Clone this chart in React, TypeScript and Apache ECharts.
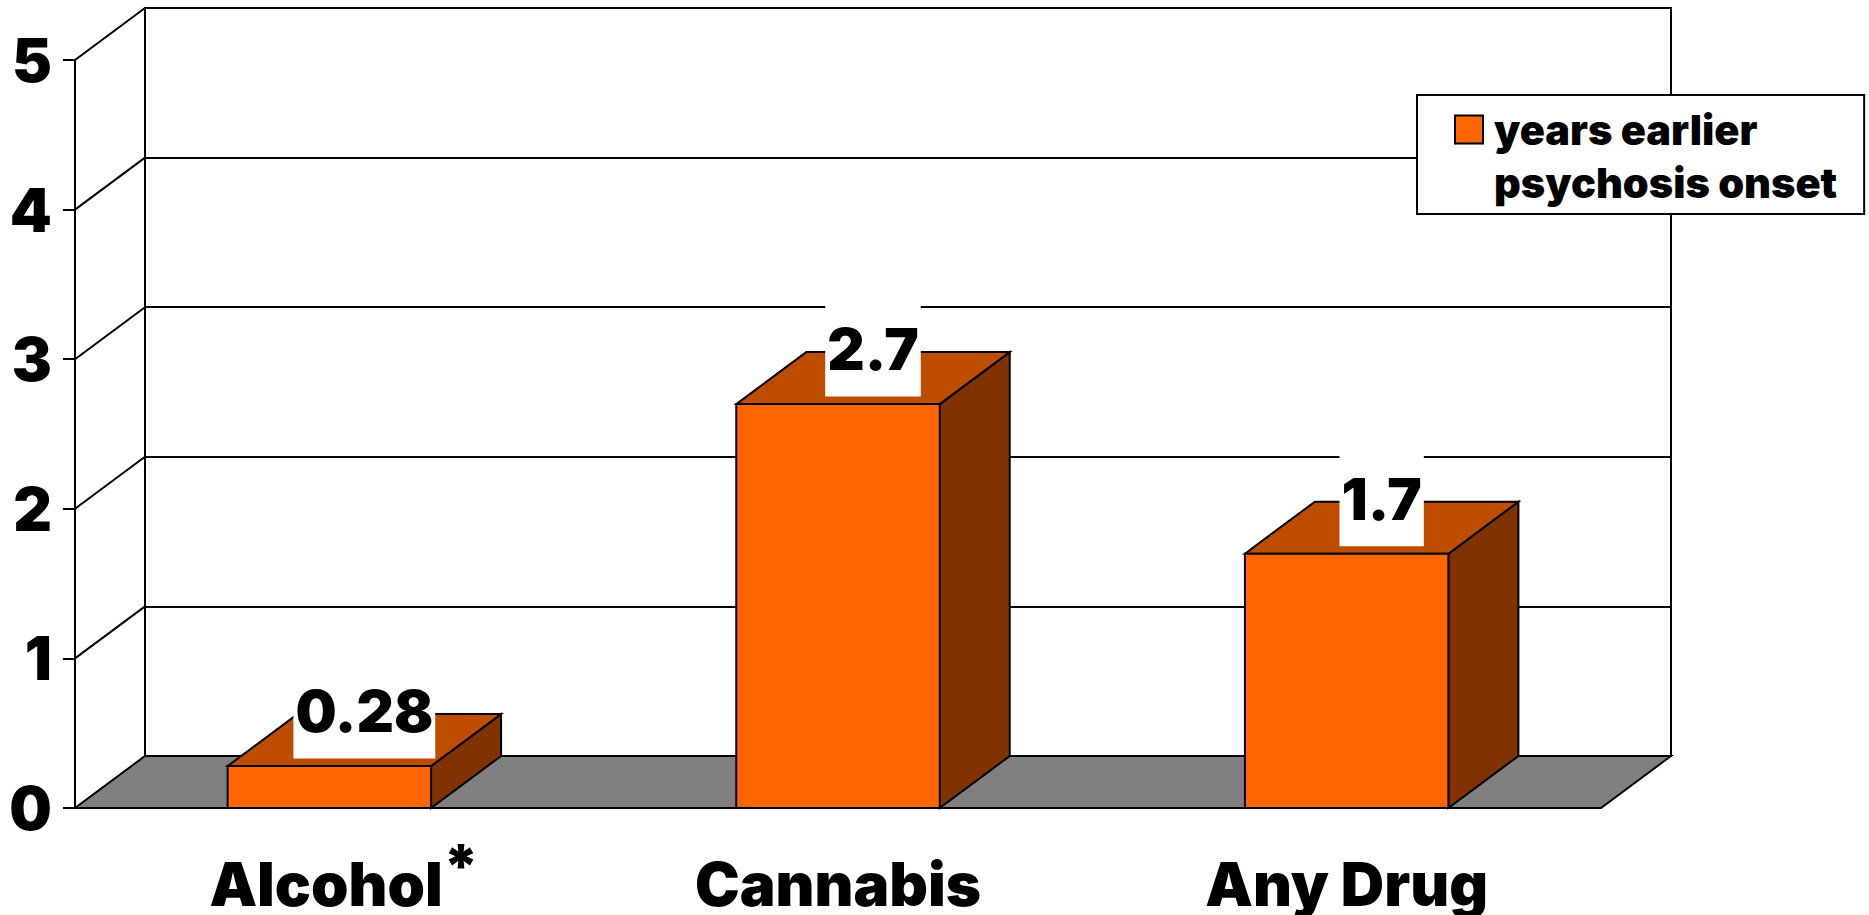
import React, { useEffect, useRef } from "react";
import * as echarts from "echarts";

const categories = ["Alcohol", "Cannabis", "Any Drug"];
const onsetYears = [0.28, 2.7, 1.7];
const valueTicks = [0, 1, 2, 3, 4, 5];
const seriesName = "years earlier\npsychosis onset";

const FONT = "Inter, 'Liberation Sans', Arial, sans-serif";
const WEIGHT = 900;
const AXIS_SIZE = 60;
const VALUE_SIZE = 58;
const DEPTH_X = 70;
const DEPTH_Y = 52;
const BLACK = "#000000";
const FRONT_FILL = "#FF6600";
const TOP_FILL = "#BF4D00";
const SIDE_FILL = "#803300";

// Floor of the 3D box, under the bars.
function renderFloor(params: any, api: any) {
  const cs = params.coordSys;
  const y0 = api.coord([0, 0])[1];
  return {
    type: "polygon",
    shape: {
      points: [
        [cs.x, y0],
        [cs.x + cs.width, y0],
        [cs.x + cs.width + DEPTH_X, y0 - DEPTH_Y],
        [cs.x + DEPTH_X, y0 - DEPTH_Y],
      ],
    },
    style: { fill: "#808080", stroke: BLACK, lineWidth: 2 },
  };
}

// Diagonals joining each front tick to its gridline on the back wall.
function renderWallDiagonal(params: any, api: any) {
  const cs = params.coordSys;
  const y = api.coord([0, api.value(1)])[1];
  return {
    type: "line",
    shape: { x1: cs.x, y1: y, x2: cs.x + DEPTH_X, y2: y - DEPTH_Y },
    style: { stroke: BLACK, lineWidth: 2, fill: "none" },
  };
}

// Extruded bar with its value label sitting on the top face.
function renderBar(params: any, api: any) {
  const index = api.value(0);
  const value = api.value(1);
  const [cx, yTop] = api.coord([index, value]);
  const yBase = api.coord([index, 0])[1];
  const w = api.size([1, 0])[0] * 0.4;
  const x0 = cx - w / 2;
  const x1 = cx + w / 2;
  const line = { stroke: BLACK, lineWidth: 2 };
  return {
    type: "group",
    children: [
      {
        type: "polygon",
        shape: {
          points: [
            [x1, yTop],
            [x1 + DEPTH_X, yTop - DEPTH_Y],
            [x1 + DEPTH_X, yBase - DEPTH_Y],
            [x1, yBase],
          ],
        },
        style: { fill: SIDE_FILL, ...line },
      },
      {
        type: "polygon",
        shape: {
          points: [
            [x0, yTop],
            [x0 + DEPTH_X, yTop - DEPTH_Y],
            [x1 + DEPTH_X, yTop - DEPTH_Y],
            [x1, yTop],
          ],
        },
        style: { fill: TOP_FILL, ...line },
      },
      {
        type: "rect",
        shape: { x: x0, y: yTop, width: w, height: yBase - yTop },
        style: { fill: FRONT_FILL, ...line },
      },
      {
        type: "text",
        z2: 10,
        style: {
          text: String(value),
          x: cx + DEPTH_X / 2,
          y: yTop - 55,
          align: "center",
          verticalAlign: "middle",
          font: `${WEIGHT} ${VALUE_SIZE}px ${FONT}`,
          fill: BLACK,
          backgroundColor: "#FFFFFF",
          padding: [16, 2, 21, 2],
        },
      },
    ],
  };
}

export default function App() {
  const ref = useRef<HTMLDivElement>(null);

  useEffect(() => {
    document.body.style.margin = "0";
    document.body.style.overflow = "hidden";
    const chart = echarts.init(ref.current!, null, { renderer: "svg" });
    chart.setOption({
      animation: false,
      backgroundColor: "#FFFFFF",
      grid: [
        {
          left: 145,
          top: 8,
          width: 1526,
          height: 748,
          outerBoundsMode: "none",
          show: true,
          backgroundColor: "#FFFFFF",
          borderColor: BLACK,
          borderWidth: 2,
        },
        { left: 75, top: 60, width: 1526, height: 748, outerBoundsMode: "none" },
      ],
      xAxis: [
        { type: "category", gridIndex: 0, data: categories, show: false },
        {
          type: "category",
          gridIndex: 1,
          data: categories,
          z: 6,
          axisLine: { lineStyle: { color: BLACK, width: 2 } },
          axisTick: { length: 11, lineStyle: { color: BLACK, width: 2 } },
          axisLabel: {
            margin: 51,
            interval: 0,
            color: BLACK,
            fontFamily: FONT,
            fontWeight: WEIGHT,
            fontSize: AXIS_SIZE,
            lineHeight: 50,
            formatter: (name: string) =>
              name === "Alcohol" ? `{a|${name}}{s|*}` : name,
            rich: {
              a: {
                fontFamily: FONT,
                fontWeight: WEIGHT,
                fontSize: AXIS_SIZE,
                lineHeight: 50,
                color: BLACK,
                padding: [0, 0, 0, 30],
              },
              s: {
                fontFamily: FONT,
                fontWeight: WEIGHT,
                fontSize: AXIS_SIZE,
                lineHeight: 12,
                color: BLACK,
                padding: [0, 0, 36, 0],
              },
            },
          },
        },
      ],
      yAxis: [
        {
          type: "value",
          gridIndex: 0,
          min: 0,
          max: 5,
          interval: 1,
          axisLine: { show: false },
          axisTick: { show: false },
          axisLabel: { show: false },
          splitLine: { lineStyle: { color: BLACK, width: 2 } },
        },
        {
          type: "value",
          gridIndex: 1,
          min: 0,
          max: 5,
          interval: 1,
          z: 6,
          axisLine: { show: true, lineStyle: { color: BLACK, width: 2 } },
          axisTick: { show: true, length: 12, lineStyle: { color: BLACK, width: 2 } },
          splitLine: { show: false },
          axisLabel: {
            margin: 23,
            color: BLACK,
            fontFamily: FONT,
            fontWeight: WEIGHT,
            fontSize: AXIS_SIZE,
          },
        },
      ],
      legend: {
        left: 1417,
        top: 95,
        orient: "vertical",
        backgroundColor: "#FFFFFF",
        borderColor: BLACK,
        borderWidth: 2,
        borderRadius: 0,
        padding: [-45, 27, 5, 37],
        itemWidth: 28,
        itemHeight: 28,
        z: 20,
        // A blank first line keeps the symbol level with "years earlier".
        formatter: (name: string) => `\n${name}`,
        data: [
          {
            name: seriesName,
            icon: "rect",
            itemStyle: { color: FRONT_FILL, borderColor: BLACK, borderWidth: 2 },
          },
        ],
        textStyle: {
          color: BLACK,
          fontFamily: FONT,
          fontWeight: WEIGHT,
          fontSize: 41.5,
          lineHeight: 53,
          padding: [0, 0, 0, 6],
        },
      },
      series: [
        {
          type: "custom",
          name: "floor",
          xAxisIndex: 1,
          yAxisIndex: 1,
          z: 2,
          silent: true,
          renderItem: renderFloor,
          data: [[0, 0]],
        },
        {
          type: "custom",
          name: "wall",
          xAxisIndex: 1,
          yAxisIndex: 1,
          z: 2,
          silent: true,
          renderItem: renderWallDiagonal,
          data: valueTicks.slice(1).map((v) => [0, v]),
        },
        {
          type: "custom",
          name: seriesName,
          xAxisIndex: 1,
          yAxisIndex: 1,
          z: 3,
          itemStyle: { color: FRONT_FILL },
          renderItem: renderBar,
          encode: { x: 0, y: 1 },
          data: onsetYears.map((v, i) => [i, v]),
        },
      ],
    });
    return () => chart.dispose();
  }, []);

  return <div ref={ref} style={{ width: 1869, height: 915 }} />;
}
